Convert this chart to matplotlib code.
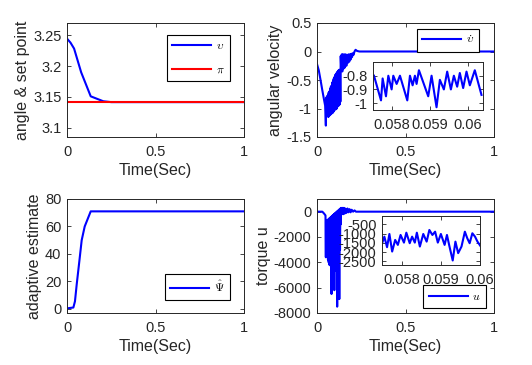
import matplotlib
matplotlib.use("Agg")
import matplotlib.pyplot as plt

plt.rcParams['font.family'] = ['Liberation Sans', 'DejaVu Sans']
plt.rcParams['mathtext.fontset'] = 'cm'
plt.rcParams['axes.unicode_minus'] = False

# ---------------- data ----------------
# angle & set point
t_angle = [0.0, 0.02, 0.04, 0.08, 0.134, 0.205, 0.25, 1.0]
angle = [3.2447, 3.238, 3.2285, 3.19, 3.151, 3.143, 3.1416, 3.1416]
setpoint = 3.14159

# angular velocity
t_vel = [0.0, 0.01, 0.02, 0.03, 0.04, 0.046, 0.050, 0.052,
         0.054, 0.056, 0.058, 0.060, 0.062, 0.064, 0.066, 0.068, 0.070, 0.072,
         0.074, 0.076, 0.078, 0.080, 0.082, 0.084, 0.086, 0.088, 0.090, 0.092,
         0.094, 0.096, 0.098, 0.100, 0.102, 0.104, 0.106, 0.108, 0.110, 0.112,
         0.114, 0.116, 0.118, 0.120, 0.122, 0.124, 0.126, 0.128, 0.130, 0.132,
         0.134, 0.137, 0.140, 0.143, 0.146, 0.150, 0.154, 0.158, 0.162, 0.166,
         0.170, 0.174, 0.178, 0.182, 0.186, 0.190, 0.194, 0.198, 0.202, 0.206,
         0.212, 0.218, 0.226, 0.24, 1.0]
vel = [-0.22, -0.33, -0.50, -0.68, -0.85, -0.95, -1.30, -0.85,
       -0.80, -1.12, -0.78, -1.10, -0.76, -1.15, -0.72, -1.08, -0.70, -1.12,
       -0.66, -1.05, -0.62, -1.10, -0.60, -1.02, -0.55, -1.08, -0.52, -1.00,
       -0.48, -1.05, -0.45, -0.98, -0.42, -1.02, -0.40, -0.95, -0.38, -1.00,
       -0.36, -0.92, -0.35, -0.96, -0.33, -0.90, -0.32, -0.93, -0.35, -0.88,
       -0.08, -0.32, -0.05, -0.35, -0.05, -0.30, -0.05, -0.28, -0.05, -0.25,
       -0.06, -0.20, -0.05, -0.18, -0.05, -0.14, -0.04, -0.10, -0.03, -0.06,
       0.0, 0.03, 0.01, 0.0, 0.0]

# angular velocity zoom
t_vel_zoom = [0.057526, 0.057711, 0.057754, 0.057842, 0.057904, 0.057991, 0.058035,
              0.058123, 0.058211, 0.058404, 0.058474, 0.058544, 0.058605, 0.058649,
              0.058711, 0.058956, 0.059044, 0.059175, 0.059263, 0.059368, 0.059456,
              0.059553, 0.059632, 0.059719, 0.059789, 0.059877, 0.059965, 0.060053,
              0.060184, 0.060360]
vel_zoom = [-0.80, -0.98, -0.82, -0.95, -0.80, -0.90, -0.80, -0.86, -0.80, -0.98,
            -0.80, -0.87, -0.80, -0.86, -0.76, -0.95, -0.80, -1.03, -0.83, -0.90,
            -0.77, -0.90, -0.80, -0.88, -0.78, -0.89, -0.77, -0.87, -0.76, -0.94]

# adaptive estimate
t_psi = [0.0, 0.007, 0.036, 0.045, 0.055, 0.07, 0.083, 0.10, 0.134, 1.0]
psi = [0.5, 0.5, 1.0, 5.5, 18.0, 35.0, 50.0, 60.0, 71.0, 71.0]

# torque
t_u = [0.0, 0.03, 0.04, 0.048, 0.050, 0.051,
       0.052, 0.054, 0.056, 0.058, 0.060, 0.062, 0.064, 0.066, 0.068, 0.070,
       0.072, 0.074, 0.076, 0.078, 0.080, 0.082, 0.084, 0.086, 0.088, 0.090,
       0.092, 0.094, 0.096, 0.098, 0.100, 0.102, 0.104, 0.106, 0.108, 0.110,
       0.112, 0.114, 0.116, 0.118, 0.120, 0.122, 0.124, 0.126, 0.128, 0.130,
       0.132, 0.134, 0.136, 0.140, 0.144, 0.148, 0.152, 0.156, 0.160, 0.166,
       0.172, 0.178, 0.184, 0.190, 0.196, 0.204, 0.212, 0.22, 1.0]
u = [0, 0, -150, -300, -3600, -800,
     -800, -3200, -700, -3500, -650, -3800, -600, -4000, -550, -4200,
     -500, -4100, -450, -4300, -400, -6500, -350, -4400, -300, -4500,
     -250, -4300, -200, -6200, -150, -4600, -100, -4400, -50, -4700,
     0, -7500, 50, -4500, 100, -4200, 150, -6900, 200, -3000,
     250, -1000, 300, -200, 300, -200, 300, -150, 250, -100,
     250, -50, 200, -50, 150, 0, 100, 0, 0]

# torque zoom
t_u_zoom = [0.057490, 0.057560, 0.057629, 0.057689, 0.057759, 0.057836, 0.057904,
            0.057974, 0.058060, 0.058121, 0.058207, 0.058268, 0.058337, 0.058389,
            0.058466, 0.058553, 0.058639, 0.058708, 0.058786, 0.058855, 0.058924,
            0.059002, 0.059097, 0.059157, 0.059218, 0.059304, 0.059373, 0.059443,
            0.059528, 0.059614, 0.059675, 0.059736, 0.059805, 0.059873, 0.059935,
            0.060021]
u_zoom = [-1613, -1167, -1737, -1022, -1973, -1344, -1613, -1075, -1489, -952,
          -1522, -1167, -1489, -952, -1702, -1022, -1435, -806, -1075, -898,
          -1489, -1022, -1613, -1075, -1667, -2457, -1435, -2059, -1702, -898,
          -1253, -1522, -984, -1167, -1435, -1702]

# labels
xticks_main = [0, 0.5, 1]
xticklabels_main = ['0', '0.5', '1']

# ---------------- figure ----------------
W, H = 532, 365
fig = plt.figure(figsize=(W / 100, H / 100), dpi=100)
axc = (0.15, 0.15, 0.15)
TFS = 10.5   # tick font size
LFS = 11.5   # axis label font size


def add_ax(x0, y0, x1, y1):
    return fig.add_axes([x0 / W, (H - y1) / H, (x1 - x0) / W, (y1 - y0) / H])


def style(ax, fs=TFS):
    ax.tick_params(direction='in', top=True, right=True, length=3, width=0.6,
                   colors=axc, labelsize=fs)
    ax.tick_params(axis='x', pad=6)
    ax.tick_params(axis='y', pad=4)
    for s in ax.spines.values():
        s.set_color(axc)
        s.set_linewidth(0.7)


def leg(ax, loc, anchor):
    lg = ax.legend(loc=loc, bbox_to_anchor=anchor, borderaxespad=0, fontsize=8.5,
                   fancybox=False, edgecolor='black', framealpha=1,
                   handlelength=3.3, handletextpad=0.4, labelspacing=1.0,
                   borderpad=0.45)
    lg.get_frame().set_linewidth(0.8)
    return lg


blue = (0, 0, 1)
red = (1, 0, 0)
lw = 1.5

# top-left
ax1 = add_ax(67, 23, 244, 137)
ax1.plot(t_angle, angle, color=blue, lw=lw, label=r'$\upsilon$')
ax1.plot([0, 1], [setpoint, setpoint], color=red, lw=lw, label=r'$\pi$')
ax1.set_xlim(0, 1)
ax1.set_ylim(3.085, 3.27)
ax1.set_yticks([3.1, 3.15, 3.2, 3.25])
ax1.set_yticklabels(['3.1', '3.15', '3.2', '3.25'])
ax1.set_xticks(xticks_main)
ax1.set_xticklabels(xticklabels_main)
ax1.set_xlabel('Time(Sec)', fontsize=LFS, color=axc, labelpad=3)
ax1.set_ylabel('angle & set point', fontsize=LFS, color=axc, labelpad=2)
style(ax1)
leg(ax1, 'upper right', (0.921, 0.895))

# top-right
ax2 = add_ax(317, 23, 494, 137)
ax2.plot(t_vel, vel, color=blue, lw=lw, label=r'$\dot{\upsilon}$')
ax2.set_xlim(0, 1)
ax2.set_ylim(-1.5, 0.5)
ax2.set_yticks([-1.5, -1, -0.5, 0, 0.5])
ax2.set_yticklabels(['-1.5', '-1', '-0.5', '0', '0.5'])
ax2.set_xticks(xticks_main)
ax2.set_xticklabels(xticklabels_main)
ax2.set_xlabel('Time(Sec)', fontsize=LFS, color=axc, labelpad=3)
ax2.set_ylabel('angular velocity', fontsize=LFS, color=axc, labelpad=2)
style(ax2)
leg(ax2, 'upper right', (0.915, 0.947))

ax2i = add_ax(373, 62, 483, 110)
ax2i.plot(t_vel_zoom, vel_zoom, color=blue, lw=lw)
ax2i.set_xlim(0.0575, 0.0604)
ax2i.set_ylim(-1.05, -0.70)
ax2i.set_xticks([0.058, 0.059, 0.06])
ax2i.set_xticklabels(['0.058', '0.059', '0.06'])
ax2i.set_yticks([-1, -0.9, -0.8])
ax2i.set_yticklabels(['-1', '-0.9', '-0.8'])
style(ax2i)

# bottom-left
ax3 = add_ax(67, 199, 244, 313)
ax3.plot(t_psi, psi, color=blue, lw=lw, label=r'$\hat{\Psi}$')
ax3.set_xlim(0, 1)
ax3.set_ylim(-3, 80)
ax3.set_yticks([0, 20, 40, 60, 80])
ax3.set_yticklabels(['0', '20', '40', '60', '80'])
ax3.set_xticks(xticks_main)
ax3.set_xticklabels(xticklabels_main)
ax3.set_xlabel('Time(Sec)', fontsize=LFS, color=axc, labelpad=3)
ax3.set_ylabel('adaptive estimate', fontsize=LFS, color=axc, labelpad=2)
style(ax3)
leg(ax3, 'lower right', (0.921, 0.114))

# bottom-right
ax4 = add_ax(317, 199, 494, 313)
ax4.plot(t_u, u, color=blue, lw=lw, label=r'$u$')
ax4.set_xlim(0, 1)
ax4.set_ylim(-8000, 1000)
ax4.set_yticks([-8000, -6000, -4000, -2000, 0])
ax4.set_yticklabels(['-8000', '-6000', '-4000', '-2000', '0'])
ax4.set_xticks(xticks_main)
ax4.set_xticklabels(xticklabels_main)
ax4.set_xlabel('Time(Sec)', fontsize=LFS, color=axc, labelpad=3)
ax4.set_ylabel('torque u', fontsize=LFS, color=axc, labelpad=2)
style(ax4)
leg(ax4, 'lower right', (0.955, 0.044))

ax4i = add_ax(382, 216, 480, 265)
ax4i.plot(t_u_zoom, u_zoom, color=blue, lw=lw)
ax4i.set_xlim(0.0575, 0.0600)
ax4i.set_ylim(-2700, -50)
ax4i.set_xticks([0.058, 0.059, 0.06])
ax4i.set_xticklabels(['0.058', '0.059', '0.06'])
ax4i.set_yticks([-2500, -2000, -1500, -1000, -500])
ax4i.set_yticklabels(['-2500', '-2000', '-1500', '-1000', '-500'])
style(ax4i)

fig.savefig('out.png', dpi=100)
